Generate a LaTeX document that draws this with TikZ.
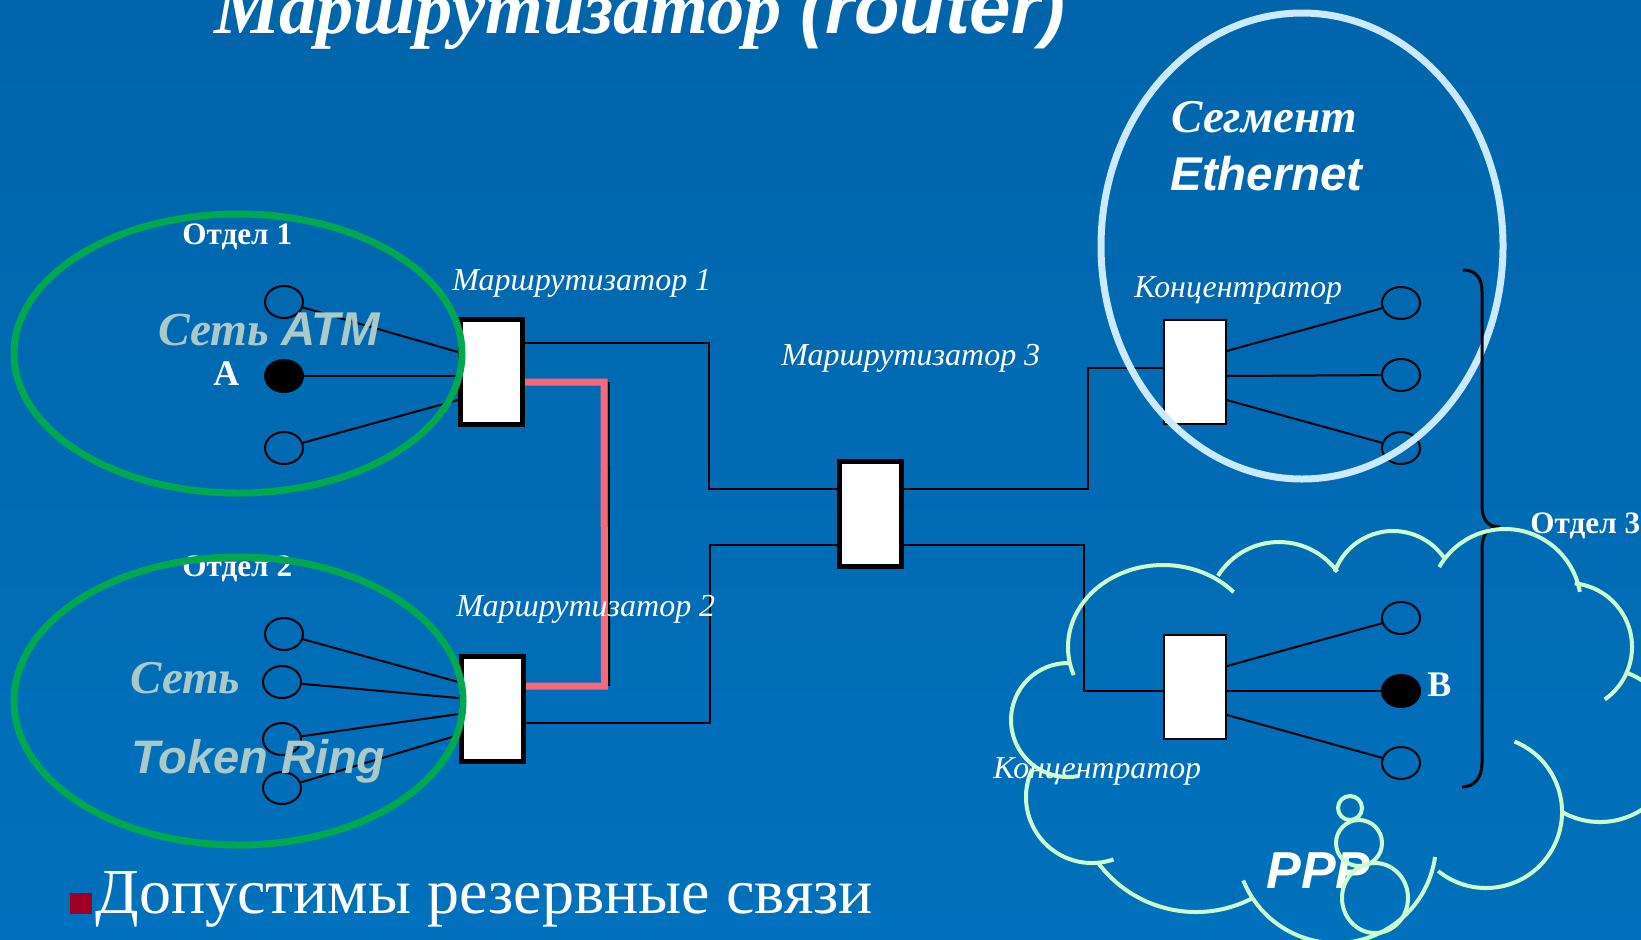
\documentclass[tikz,border=0pt]{standalone}
\usepackage{fontspec}
\setmainfont{Liberation Serif}
\newfontfamily\arialf{Liberation Sans}
\usetikzlibrary{shapes.geometric,calc}
\pgfdeclarelayer{back}
\pgfdeclarelayer{lines}
\pgfsetlayers{back,lines,main}
\definecolor{bgtop}{RGB}{0,101,171}
\definecolor{bgbot}{RGB}{0,113,188}
\definecolor{grn}{RGB}{0,168,80}
\definecolor{ethc}{RGB}{204,234,255}
\definecolor{cloudc}{RGB}{204,255,204}
\definecolor{redc}{RGB}{247,104,120}
\definecolor{netc}{RGB}{172,201,201}
\definecolor{bulc}{RGB}{160,0,36}
\newcommand{\myfs}[1]{\fontsize{#1}{#1}\selectfont}
\newcommand{\cloudbump}[5]{\draw[cloudline] ({#1+#3*cos(#4)},{#2+#3*sin(#4)}) arc[start angle=#4, end angle=#5, radius=#3];}
\tikzset{
  rbox/.style={draw=black, fill=white, line width=2.5pt, minimum width=31pt, minimum height=52.5pt, inner sep=0pt},
  hubbox/.style={draw=black, fill=white, line width=1pt, minimum width=31pt, minimum height=52pt, inner sep=0pt},
  stn/.style={ellipse, draw=black, line width=1pt, minimum width=19pt, minimum height=16pt, inner sep=0pt},
  stnfill/.style={stn, fill=black},
  conn/.style={draw=black, line width=1pt},
  redlink/.style={draw=redc, line width=3.5pt},
  lbl/.style={text=white, inner sep=0pt, anchor=base west},
  netlbl/.style={text=netc, inner sep=0pt, anchor=base west},
  grnring/.style={draw=grn, line width=3.5pt},
  ethring/.style={draw=ethc, line width=3.5pt},
  cloudline/.style={draw=cloudc, line width=2pt},
  bracel/.style={draw=black, line width=1.5pt}
}
\begin{document}
\begin{tikzpicture}[x=0.5pt,y=-0.5pt]
\useasboundingbox (0,0) rectangle (1641,939);
\clip (0,0) rectangle (1641,939);
\begin{pgfonlayer}{back}
\shade[top color=bgtop,bottom color=bgbot] (0,0) rectangle (1641,939);
\end{pgfonlayer}

% title
\node[lbl, font={\myfs{37.2pt}\bfseries\itshape}] (title) at (214,33) {Маршрутизатор {\arialf(router)}};

% routers and hubs
\node[rbox] (r1) at (491.5,372) {};
\node[rbox] (r2) at (492,708.5) {};
\node[rbox] (r3) at (870.5,514) {};
\node[hubbox] (hub1) at (1194.5,371.5) {};
\node[hubbox] (hub2) at (1195,686.5) {};

% stations
\node[stn] (a1) at (284,302) {};
\node[stnfill] (a2) at (284,376) {};
\node[stn] (a3) at (284,448) {};
\node[stn] (t1) at (284,634) {};
\node[stn] (t2) at (282,682) {};
\node[stn] (t3) at (282,739) {};
\node[stn] (t4) at (282,788) {};
\node[stn] (e1) at (1401,303) {};
\node[stn] (e2) at (1401,375) {};
\node[stn] (e3) at (1401,448) {};
\node[stn] (p1) at (1401,618) {};
\node[stnfill] (p2) at (1401,691) {};
\node[stn] (p3) at (1401,763) {};

% labels
\node[lbl, font={\myfs{16pt}\itshape}] (lr1) at (452,290) {Маршрутизатор 1};
\node[lbl, font={\myfs{16pt}\itshape}] (lr2) at (456,616) {Маршрутизатор 2};
\node[lbl, font={\myfs{16pt}\itshape}] (lr3) at (781,365) {Маршрутизатор 3};
\node[lbl, font={\myfs{15.9pt}\itshape}] (lh1) at (1134,297) {Концентратор};
\node[lbl, font={\myfs{15.9pt}\itshape}] (lh2) at (993,778) {Концентратор};
\node[lbl, font={\myfs{15.6pt}\bfseries}] (d1) at (182,244) {Отдел 1};
\node[lbl, font={\myfs{15.6pt}\bfseries}] (d2) at (182,576) {Отдел 2};
\node[lbl, font={\myfs{15.6pt}\bfseries}] (d3) at (1530,533) {Отдел 3};
\node[lbl, font={\myfs{18pt}\bfseries}] (la) at (213,385) {A};
\node[lbl, font={\myfs{18pt}\bfseries}] (lb) at (1427,696) {B};
\node[netlbl, font={\myfs{23.7pt}\bfseries\itshape}] (atm) at (158,345) {Сеть {\arialf ATM}};
\node[netlbl, font={\myfs{23.5pt}\bfseries\itshape}] (tr1) at (130,693) {Сеть};
\node[netlbl, font={\myfs{23.5pt}\bfseries\itshape\arialf}] (tr2) at (131,773) {Token Ring};
\node[lbl, font={\myfs{23.5pt}\bfseries\itshape}] (seg) at (1171,132) {Сегмент};
\node[lbl, font={\myfs{23.7pt}\bfseries\itshape\arialf}] (eth) at (1170,190) {Ethernet};
\node[lbl, font={\myfs{26pt}\bfseries\itshape\arialf}] (ppp) at (1266,888) {PPP};
\node[fill=bulc, minimum width=11pt, minimum height=10.5pt, inner sep=0pt, anchor=north west] (bsq) at (70,893) {};
\node[lbl, font={\myfs{32pt}}] (btxt) at (95,913) {Допустимы резервные связи};

% connectors
\begin{pgfonlayer}{lines}
\draw[conn] (a1) -- ([yshift=10pt]r1.west);
\draw[conn] (a2) -- ([yshift=-2pt]r1.west);
\draw[conn] (a3) -- ([yshift=-14pt]r1.west);
\draw[conn] (t1) -- ([yshift=13.25pt]r2.west);
\draw[conn] (t2) -- ([yshift=5.25pt]r2.west);
\draw[conn] (t3) -- ([yshift=-2.75pt]r2.west);
\draw[conn] (t4) -- ([yshift=-13.25pt]r2.west);
\draw[conn] (e1) -- ([yshift=10.25pt]hub1.east);
\draw[conn] (e2) -- ([yshift=-2.25pt]hub1.east);
\draw[conn] (e3) -- ([yshift=-14.25pt]hub1.east);
\draw[conn] (p1) -- ([yshift=10.25pt]hub2.east);
\draw[conn] (p2) -- ([yshift=-2.25pt]hub2.east);
\draw[conn] (p3) -- ([yshift=-14.25pt]hub2.east);
\draw[conn] ([yshift=14.5pt]r1.east) -- ++(184,0) |- ([yshift=12.5pt]r3.west);
\draw[conn] ([yshift=-7.25pt]r2.east) -- ++(184,0) |- ([yshift=-15.5pt]r3.west);
\draw[conn] ([yshift=12.5pt]r3.east) -- ++(184,0) |- ([yshift=1.75pt]hub1.west);
\draw[conn] ([yshift=-15.5pt]r3.east) -- ++(180,0) |- ([yshift=-2.25pt]hub2.west);
\path ([yshift=-5pt]r1.east) ++(79,0) coordinate (redtop);
\path ([yshift=11.25pt]r2.east) ++(79,0) coordinate (redbot);
\draw[conn] ([xshift=2.3pt]redtop) -- ([xshift=2.3pt]redbot);
\draw[redlink] ([yshift=-5pt]r1.east) -- (redtop) -- (redbot) -- ([yshift=11.25pt]r2.east);
\end{pgfonlayer}

% department rings
\draw[grnring] (238,353.5) ellipse [x radius=224, y radius=139.5];
\draw[grnring] (238.5,701) ellipse [x radius=224.5, y radius=144];
\draw[ethring] (1302,246) ellipse [x radius=201, y radius=233];

% brace for Отдел 3
\draw[bracel] (1463,270) .. controls (1476,270) and (1482,278) .. (1482,292) -- (1482,505)
  .. controls (1482,520) and (1488,527) .. (1500,527);
\draw[bracel] (1500,527) .. controls (1488,527) and (1482,534) .. (1482,549) -- (1482,763)
  .. controls (1482,778) and (1474,787) .. (1462,787);

% cloud
\draw[cloudline] ({1163+95*cos(160)},{647+82*sin(160)}) arc[start angle=160, end angle=318, x radius=95, y radius=82];
\cloudbump{1279}{614}{72}{212}{324}
\cloudbump{1393}{593}{62}{200}{325}
\cloudbump{1505}{605}{76}{210}{350}
\cloudbump{1568}{647}{64}{276}{415}
\cloudbump{1600}{745}{77}{289}{479}
\cloudbump{1486}{812}{76}{292}{489}
\cloudbump{1336}{843}{100}{8}{158}
\cloudbump{1196}{790}{122}{144}{62}
\cloudbump{1092}{797}{66}{205}{71}
\cloudbump{1068}{720}{57}{270}{80}
\draw[cloudline] (1350,808) circle [radius=12];
\draw[cloudline] (1359,843) circle [radius=23];
\draw[cloudline] (1375,898) ellipse [x radius=33, y radius=35];
\end{tikzpicture}
\end{document}
